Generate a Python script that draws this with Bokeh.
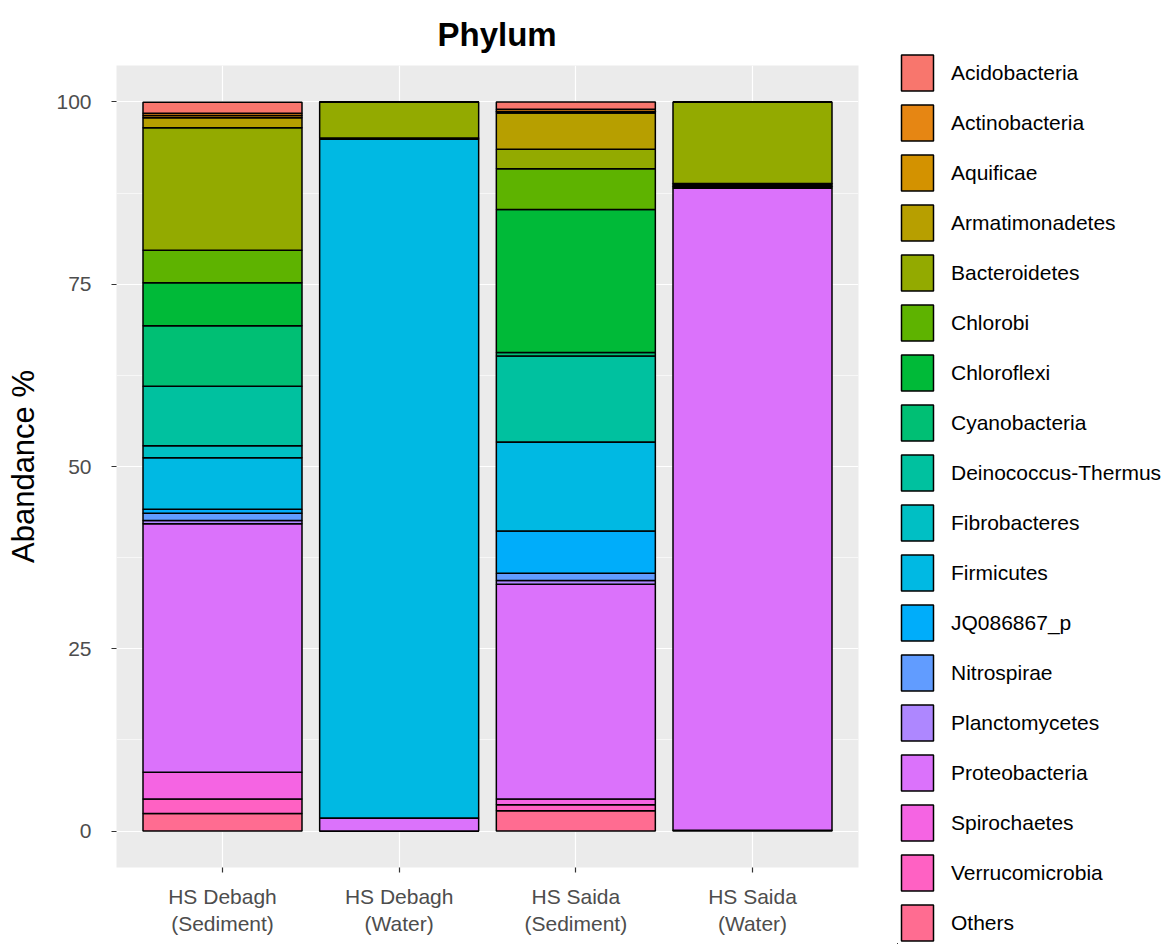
from bokeh.plotting import figure
from bokeh.models import (Range1d, FixedTicker, ColumnDataSource, Legend,
                          LegendItem)
from bokeh.embed import file_html
from bokeh.resources import INLINE

FONT = "Liberation Sans"

phyla = ["Acidobacteria", "Actinobacteria", "Aquificae", "Armatimonadetes",
         "Bacteroidetes", "Chlorobi", "Chloroflexi", "Cyanobacteria",
         "Deinococcus-Thermus", "Fibrobacteres", "Firmicutes", "JQ086867_p",
         "Nitrospirae", "Planctomycetes", "Proteobacteria", "Spirochaetes",
         "Verrucomicrobia", "Others"]

colors = ["#F8766D", "#E68613", "#D39200", "#B79F00", "#93AA00", "#5EB300",
          "#00BA38", "#00BF74", "#00C19F", "#00BFC4", "#00B9E3", "#00ADFA",
          "#619CFF", "#AE87FF", "#DB72FB", "#F564E3", "#FF61C3", "#FF6C91"]

sample_labels = ["HS Debagh\n(Sediment)", "HS Debagh\n(Water)",
                 "HS Saida\n(Sediment)", "HS Saida\n(Water)"]

# abundance % per phylum (same order as phyla)
debagh_sediment = [1.5, 0.3, 0.3, 1.4, 16.8, 4.45, 5.9, 8.3, 8.15, 1.65,
                   7.05, 0.55, 1.0, 0.45, 34.1, 3.65, 2.0, 2.4]
debagh_water = [0, 0, 0, 0, 4.93, 0.1, 0.1, 0, 0, 0,
                93.07, 0, 0, 0, 1.8, 0, 0, 0]
saida_sediment = [1.0, 0.3, 0.2, 5.0, 2.65, 5.6, 19.6, 0.5, 11.8, 0.0,
                  12.2, 5.8, 1.0, 0.5, 29.45, 0.8, 0.8, 2.8]
saida_water = [0, 0, 0, 0, 11.2, 0.2, 0.2, 0, 0, 0,
               0.2, 0, 0, 0, 88.1, 0, 0, 0.1]

y_ticks = [0, 25, 50, 75, 100]
y_minor = [12.5, 37.5, 62.5, 87.5]

xs = [1, 2, 3, 4]
data = {"x": xs}
for i, ph in enumerate(phyla):
    data[ph] = [debagh_sediment[i], debagh_water[i], saida_sediment[i], saida_water[i]]
source = ColumnDataSource(data)

H = 944

p = figure(width=859, height=H,
           x_range=Range1d(0.4, 4.6), y_range=Range1d(-5, 105),
           output_backend="svg", toolbar_location=None,
           min_border_left=116, min_border_right=1,
           min_border_top=64, min_border_bottom=77,
           background_fill_color="#EBEBEB", border_fill_color="white",
           outline_line_color=None)

p.title.text = "Phylum"
p.title.align = "left"
p.title.offset = 321
p.title.text_font = FONT
p.title.text_font_size = "33px"
p.title.text_font_style = "bold"
p.title.text_color = "black"
p.title.vertical_align = "bottom"
p.title.standoff = 26

stack_order = list(reversed(phyla))
stack_colors = list(reversed(colors))
renderers = p.vbar_stack(stack_order, x="x", width=0.9, source=source,
                         fill_color=stack_colors, line_color="black",
                         line_width=1.5)

# axes
xa = p.xaxis[0]
xa.ticker = FixedTicker(ticks=xs, minor_ticks=[])
xa.major_label_overrides = {x: lab for x, lab in zip(xs, sample_labels)}
ya = p.yaxis[0]
ya.ticker = FixedTicker(ticks=y_ticks, minor_ticks=y_minor)
ya.axis_label = "Abandance %"

for ax in (xa, ya):
    ax.axis_line_color = None
    ax.major_tick_line_color = "#333333"
    ax.major_tick_line_width = 1.2
    ax.major_tick_out = 5
    ax.major_tick_in = 0
    ax.minor_tick_line_color = None
    ax.major_label_text_font = FONT
    ax.major_label_text_font_size = "21px"
    ax.major_label_text_color = "#4D4D4D"
    ax.axis_label_text_font = FONT
    ax.axis_label_text_font_size = "31px"
    ax.axis_label_text_font_style = "normal"
    ax.axis_label_text_color = "black"

xa.major_label_standoff = 12
xa.major_label_text_line_height = 1.2
ya.major_label_standoff = 20
ya.axis_label_standoff = 12

p.xgrid.grid_line_color = "white"
p.xgrid.grid_line_width = 1.2
p.ygrid.grid_line_color = "white"
p.ygrid.grid_line_width = 1.2
p.ygrid.minor_grid_line_color = "white"
p.ygrid.minor_grid_line_width = 0.6

# legend: its own figure, placed to the right of the chart
lg = figure(width=304, height=H, x_range=Range1d(0, 1), y_range=Range1d(0, 1),
            output_backend="svg", toolbar_location=None,
            x_axis_location=None, y_axis_location=None,
            min_border_left=38, min_border_top=50,
            min_border_right=0, min_border_bottom=0,
            outline_line_color=None,
            background_fill_color="white", border_fill_color="white")
lg.grid.visible = False
lg.styles = {"position": "absolute", "left": "859px", "top": "0px"}

items = []
for ph, c in zip(phyla, colors):
    r = lg.vbar(x=[-5], top=[-5], width=0.5, fill_color=c, line_color="black",
                line_width=1.5)
    items.append(LegendItem(label=ph, renderers=[r]))

legend = Legend(items=items, location="top_left",
                glyph_width=40, glyph_height=45, spacing=5,
                padding=0, margin=0, border_line_color=None,
                background_fill_alpha=0,
                label_text_font=FONT, label_text_font_size="21px",
                label_standoff=14, label_text_color="black")
lg.add_layout(legend)

open("out.html", "w").write(file_html([p, lg], INLINE))
